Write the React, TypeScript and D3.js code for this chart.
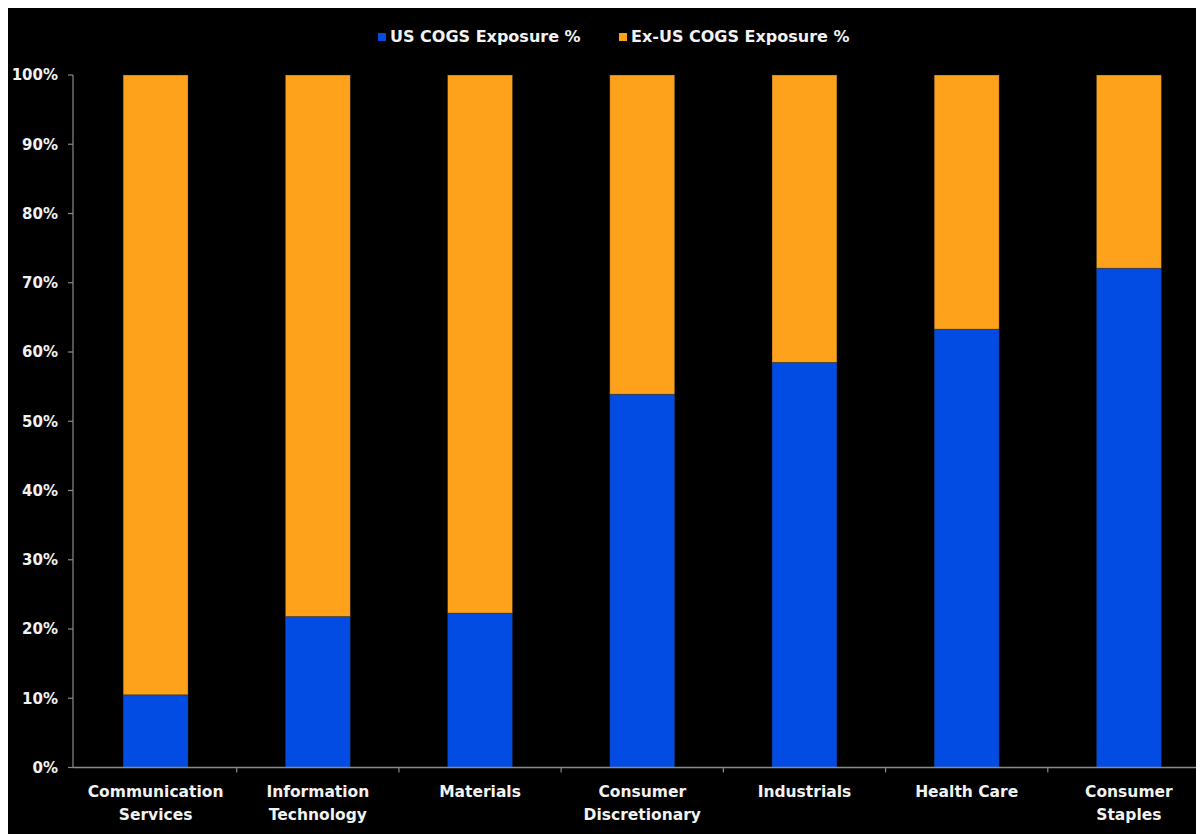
import React from "react";
import * as d3 from "d3";

// Sector cost-of-goods-sold exposure split, stacked to 100%
const categories: string[][] = [
  ["Communication", "Services"],
  ["Information", "Technology"],
  ["Materials"],
  ["Consumer", "Discretionary"],
  ["Industrials"],
  ["Health Care"],
  ["Consumer", "Staples"],
];
const usExposure: number[] = [10.5, 21.8, 22.3, 53.9, 58.5, 63.3, 72.1];
const exUsExposure: number[] = usExposure.map((v) => 100 - v);
const yTicks: number[] = [0, 10, 20, 30, 40, 50, 60, 70, 80, 90, 100];
const seriesNames: string[] = ["US COGS Exposure %", "Ex-US COGS Exposure %"];
const seriesColors: string[] = ["#034ce3", "#ffa21b"];

const W = 1196;
const H = 830;
const OX = 8; // svg sits at page (8,4); drawing below uses page coordinates
const OY = 4;
const FONT = "'DejaVu Sans', Verdana, sans-serif";
const TEXT = "#f2f2f2";
const AXIS = "#8a8a8a";

export default function App() {
  const keys = categories.map((c) => c.join(" "));
  const x = d3
    .scaleBand<string>()
    .domain(keys)
    .range([74.5, 1210])
    .paddingInner(0.6)
    .paddingOuter(0.3);
  const step = x.step();
  const y = d3.scaleLinear().domain([0, 100]).range([767.5, 75]);

  const rows = keys.map((k, i) => ({ key: k, us: usExposure[i], exus: exUsExposure[i] }));
  const stack = d3.stack<any>().keys(["us", "exus"])(rows);

  const axisLeft = 73;
  const bandStart = (x(keys[0]) as number) - step * 0.3;

  return (
    <svg
      width={W}
      height={H}
      style={{ display: "block", marginTop: -4 }}
      fontFamily={FONT}
    >
      <g transform={`translate(${-OX},${-OY})`}>
        <rect x={OX} y={OY} width={W} height={H} fill="#000" />

        {/* legend */}
        {seriesNames.map((name, i) => {
          const lx = i === 0 ? 378 : 619;
          return (
            <g key={name}>
              <rect x={lx} y={33} width={8} height={8} fill={seriesColors[i]} />
              <text x={lx + 12} y={42} fill={TEXT} fontSize={16} fontWeight="bold">
                {name}
              </text>
            </g>
          );
        })}

        {/* stacked bars */}
        {stack.map((layer, si) => (
          <g key={layer.key}>
            {layer.map((d, i) => (
              <rect
                key={keys[i]}
                x={x(keys[i])}
                y={y(d[1])}
                width={x.bandwidth()}
                height={y(d[0]) - y(d[1])}
                fill={seriesColors[si]}
                stroke="rgba(40,40,40,0.45)"
                strokeWidth={0.8}
              />
            ))}
          </g>
        ))}

        {/* y axis */}
        <line x1={axisLeft} x2={axisLeft} y1={y(100)} y2={y(0)} stroke={AXIS} strokeWidth={1.2} />
        {yTicks.map((t) => (
          <g key={t}>
            <line x1={axisLeft - 5} x2={axisLeft} y1={y(t)} y2={y(t)} stroke={AXIS} strokeWidth={1.2} />
            <text
              x={58}
              y={y(t)}
              dy="0.36em"
              textAnchor="end"
              fill={TEXT}
              fontSize={15}
              fontWeight="bold"
            >
              {`${t}%`}
            </text>
          </g>
        ))}

        {/* x axis */}
        <line x1={axisLeft} x2={OX + W} y1={y(0)} y2={y(0)} stroke={AXIS} strokeWidth={1.5} />
        {keys.map((k, i) => (
          <line
            key={`tick-${k}`}
            x1={bandStart + step * (i + 1)}
            x2={bandStart + step * (i + 1)}
            y1={y(0)}
            y2={y(0) + 5}
            stroke={AXIS}
            strokeWidth={1.2}
          />
        ))}
        {categories.map((lines, i) => {
          const cx = (x(keys[i]) as number) + x.bandwidth() / 2;
          return (
            <text
              key={`lab-${keys[i]}`}
              x={cx}
              y={797}
              textAnchor="middle"
              fill={TEXT}
              fontSize={15.5}
              fontWeight="bold"
            >
              {lines.map((ln, j) => (
                <tspan key={ln} x={cx} dy={j === 0 ? 0 : 23}>
                  {ln}
                </tspan>
              ))}
            </text>
          );
        })}
      </g>
    </svg>
  );
}
